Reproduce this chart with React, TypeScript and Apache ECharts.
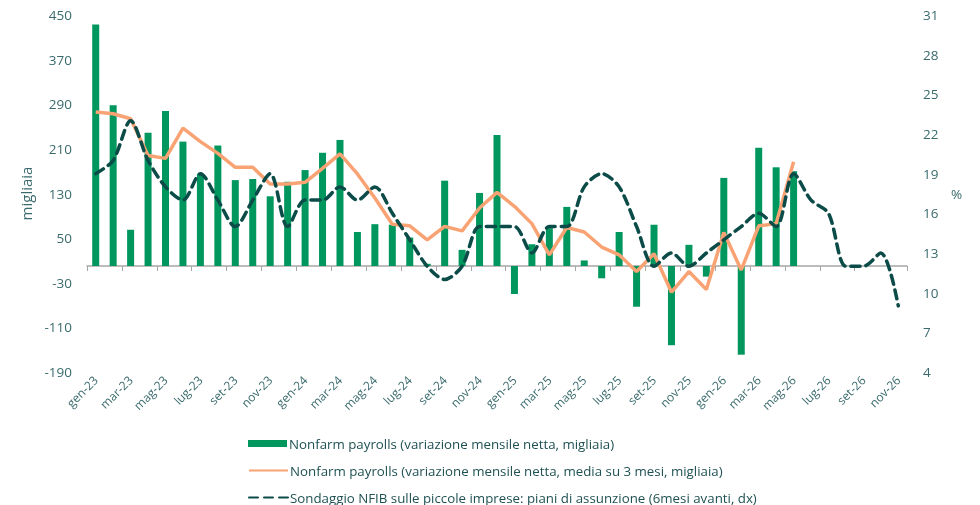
import React, { useEffect, useRef } from "react";
import * as echarts from "echarts";

const categories = [
  "gen-23","feb-23","mar-23","apr-23","mag-23","giu-23","lug-23","ago-23","set-23","ott-23","nov-23","dic-23",
  "gen-24","feb-24","mar-24","apr-24","mag-24","giu-24","lug-24","ago-24","set-24","ott-24","nov-24","dic-24",
  "gen-25","feb-25","mar-25","apr-25","mag-25","giu-25","lug-25","ago-25","set-25","ott-25","nov-25","dic-25",
  "gen-26","feb-26","mar-26","apr-26","mag-26","giu-26","lug-26","ago-26","set-26","ott-26","nov-26",
];

const payrolls = [
  433, 288, 65, 239, 278, 223, 165, 216, 154, 156, 125, 151,
  172, 203, 226, 61, 75, 74, 51, 4, 153, 29, 131, 235,
  -50, 39, 68, 106, 10, -22, 61, -73, 74, -142, 38, -19,
  158, -159, 212, 177, 170, null, null, null, null, null, null,
];

const payrolls3m = [
  276, 273, 264, 198, 193, 247, 223, 202, 177, 177, 147, 147,
  150, 175, 201, 165, 122, 75, 72, 47, 71, 63, 104, 132,
  107, 76, 20, 69, 61, 34, 20, -10, 22, -47, -10, -42,
  60, -7, 72, 76, 187, null, null, null, null, null, null,
];

const nfibHiring = [
  19, 20, 23, 20, 18, 17, 19, 17, 15, 17, 19, 15,
  17, 17, 18, 17, 18, 16, 14, 12, 11, 12, 15, 15,
  15, 13, 15, 15, 18, 19, 18, 15, 12, 13, 12, 13,
  14, 15, 16, 15, 19, 17, 16, 12, 12, 13, 9,
];

const seriesNames = [
  "Nonfarm payrolls (variazione mensile netta, migliaia)",
  "Nonfarm payrolls (variazione mensile netta, media su 3 mesi, migliaia)",
  "Sondaggio NFIB sulle piccole imprese: piani di assunzione (6mesi avanti, dx)",
];

const FONT = "'Open Sans', 'Noto Sans', sans-serif";
const LABEL_COLOR = "#3a6a6c";
const TEXT_COLOR = "#1f5052";
const BAR_COLOR = "#00975f";

const legendTops = [432, 459, 486];

export default function App() {
  const ref = useRef<HTMLDivElement>(null);

  useEffect(() => {
    if (!ref.current) return;
    const chart = echarts.init(ref.current, null, { renderer: "svg" });
    const legends = seriesNames.map((name, i) => {
      const base: any = {
        orient: "horizontal",
        left: 243,
        top: legendTops[i],
        itemWidth: 39,
        itemHeight: 7,
        textStyle: { color: TEXT_COLOR, fontSize: 13.3, fontFamily: FONT, padding: [0, 0, 0, -3] },
        data: [i === 0 ? { name, icon: "rect" } : { name }],
      };
      if (i === 0) base.itemStyle = { color: BAR_COLOR };
      else base.itemStyle = { opacity: 0 };
      return base;
    });
    chart.setOption({
      animation: false,
      textStyle: { fontFamily: FONT },
      grid: { left: 87, right: 73, top: 15, bottom: 133, containLabel: false, outerBoundsMode: "none" },
      legend: legends,
      xAxis: {
        type: "category",
        data: categories,
        boundaryGap: true,
        axisLine: { show: true, onZero: true, lineStyle: { color: "#a6a6a6", width: 1.5 } },
        axisTick: { show: true, interval: 1, length: 5, lineStyle: { color: "#a6a6a6" } },
        axisLabel: {
          interval: 1,
          rotate: 45,
          margin: 6,
          color: LABEL_COLOR,
          fontSize: 12,
          fontFamily: FONT,
        },
        splitLine: { show: false },
      },
      yAxis: [
        {
          type: "value",
          min: -190,
          max: 450,
          interval: 80,
          name: "migliaia",
          nameLocation: "middle",
          nameRotate: 90,
          nameGap: 48,
          nameTextStyle: { color: LABEL_COLOR, fontSize: 15, fontFamily: FONT },
          axisLine: { show: false },
          axisTick: { show: false },
          splitLine: { show: false },
          axisLabel: { color: LABEL_COLOR, fontSize: 13.5, margin: 15, fontFamily: FONT },
        },
        {
          type: "value",
          min: 4,
          max: 31,
          interval: 3,
          name: "%",
          nameLocation: "middle",
          nameRotate: 0,
          nameGap: 44,
          nameTextStyle: { color: LABEL_COLOR, fontSize: 13.5, fontFamily: FONT, padding: [8, 0, 0, 0] },
          axisLine: { show: false },
          axisTick: { show: false },
          splitLine: { show: false },
          axisLabel: { color: LABEL_COLOR, fontSize: 13.5, margin: 16, fontFamily: FONT },
        },
      ],
      series: [
        {
          name: seriesNames[0],
          type: "bar",
          data: payrolls,
          barWidth: 7,
          yAxisIndex: 0,
          itemStyle: { color: BAR_COLOR },
        },
        {
          name: seriesNames[1],
          type: "line",
          data: payrolls3m,
          yAxisIndex: 0,
          symbol: "none",
          showSymbol: false,
          lineStyle: { color: "#f9a374", width: 3.5 },
          itemStyle: { color: "#f9a374" },
        },
        {
          name: seriesNames[2],
          type: "line",
          data: nfibHiring,
          yAxisIndex: 1,
          symbol: "none",
          showSymbol: false,
          smooth: 0.3,
          lineStyle: { color: "#0b4b48", width: 3.5, type: [9, 6], cap: "round" },
          itemStyle: { color: "#0b4b48" },
        },
      ],
    });
    return () => chart.dispose();
  }, []);

  return (
    <div
      ref={ref}
      style={{ position: "fixed", left: 0, top: 0, width: 980, height: 505 }}
    />
  );
}
